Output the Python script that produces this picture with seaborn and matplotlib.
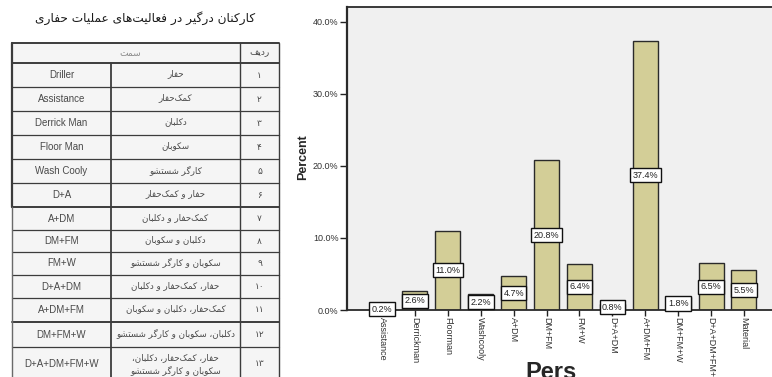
import matplotlib
matplotlib.use("Agg")
import matplotlib.pyplot as plt
import seaborn as sns
import pandas as pd

# ---- data -------------------------------------------------------------
categories = ["Assistance", "Derrickman", "Floorman", "Washcooly", "A+DM",
              "DM+FM", "FM+W", "D+A+DM", "A+DM+FM", "DM+FM+W",
              "D+A+DM+FM+W", "Material"]
percent = [0.2, 2.6, 11.0, 2.2, 4.7, 20.8, 6.4, 0.8, 37.4, 1.8, 6.5, 5.5]
y_ticks = [0, 10, 20, 30, 40]

table_title = "کارکنان درگیر در فعالیت‌های عملیات حفاری"
header_role = "سمت"
header_num = "ردیف"
roles_en = ["Driller", "Assistance", "Derrick Man", "Floor Man", "Wash Cooly",
            "D+A", "A+DM", "DM+FM", "FM+W", "D+A+DM", "A+DM+FM", "DM+FM+W",
            "D+A+DM+FM+W"]
roles_fa = ["حفار", "کمک‌حفار", "دکلبان", "سکوبان", "کارگر شستشو",
            "حفار و کمک‌حفار", "کمک‌حفار و دکلبان", "دکلبان و سکوبان",
            "سکوبان و کارگر شستشو", "حفار، کمک‌حفار و دکلبان",
            "کمک‌حفار، دکلبان و سکوبان", "دکلبان، سکوبان و کارگر شستشو",
            "حفار، کمک‌حفار، دکلبان،\nسکوبان و کارگر شستشو"]
row_numbers = ["۱", "۲", "۳", "۴", "۵", "۶", "۷", "۸", "۹", "۱۰", "۱۱", "۱۲", "۱۳"]

# ---- minimal Persian shaping (presentation forms + right-to-left order) --
FORMS = {  # isolated, final, initial, medial
    "ا": ("\uFE8D", "\uFE8E", None, None),
    "د": ("\uFEA9", "\uFEAA", None, None),
    "ر": ("\uFEAD", "\uFEAE", None, None),
    "و": ("\uFEED", "\uFEEE", None, None),
    "ب": ("\uFE8F", "\uFE90", "\uFE91", "\uFE92"),
    "ت": ("\uFE95", "\uFE96", "\uFE97", "\uFE98"),
    "ح": ("\uFEA1", "\uFEA2", "\uFEA3", "\uFEA4"),
    "س": ("\uFEB1", "\uFEB2", "\uFEB3", "\uFEB4"),
    "ش": ("\uFEB5", "\uFEB6", "\uFEB7", "\uFEB8"),
    "ع": ("\uFEC9", "\uFECA", "\uFECB", "\uFECC"),
    "ف": ("\uFED1", "\uFED2", "\uFED3", "\uFED4"),
    "ل": ("\uFEDD", "\uFEDE", "\uFEDF", "\uFEE0"),
    "م": ("\uFEE1", "\uFEE2", "\uFEE3", "\uFEE4"),
    "ن": ("\uFEE5", "\uFEE6", "\uFEE7", "\uFEE8"),
    "ه": ("\uFEE9", "\uFEEA", "\uFEEB", "\uFEEC"),
    "ی": ("\uFBFC", "\uFBFD", "\uFBFE", "\uFBFF"),
    "ک": ("\uFB8E", "\uFB8F", "\uFB90", "\uFB91"),
    "گ": ("\uFB92", "\uFB93", "\uFB94", "\uFB95"),
}


def _dual(c):
    return c in FORMS and FORMS[c][2] is not None


def shape_line(s):
    out = []
    i = 0
    while i < len(s):
        c = s[i]
        if c not in FORMS:
            if c != "\u200c":
                out.append(c)
            i += 1
            continue
        prev = s[i - 1] if i > 0 else None
        jp = prev is not None and _dual(prev)
        if c == "ل" and i + 1 < len(s) and s[i + 1] == "ا":
            out.append("\uFEFC" if jp else "\uFEFB")
            i += 2
            continue
        nxt = s[i + 1] if i + 1 < len(s) else None
        jn = _dual(c) and nxt is not None and nxt in FORMS
        iso, fin, ini, med = FORMS[c]
        out.append(med if (jp and jn) else fin if jp else ini if jn else iso)
        i += 1
    return "".join(reversed(out))


def fa(s):
    return "\n".join(shape_line(line) for line in s.split("\n"))


# ---- style ------------------------------------------------------------
sns.set_style("ticks")
plt.rcParams["font.family"] = ["Liberation Sans", "DejaVu Sans"]

W, H = 772, 377
fig = plt.figure(figsize=(W / 100, H / 100), dpi=100)

# ---- table panel (pixel coordinates) ---------------------------------
tax = fig.add_axes([0, 0, 1, 1], zorder=0)
tax.set_xlim(0, W)
tax.set_ylim(H, 0)
tax.axis("off")

t_left, t_right, c_num, c_mid = 12, 279, 240, 111
row_edges = [43, 63, 87, 111, 135, 159, 183, 207, 230, 252, 275, 298, 322, 347, 400]
line_col = "#3c3c3c"

tax.fill_between([t_left, t_right], row_edges[0], row_edges[-1],
                 color="#f5f5f5", zorder=0)
tax.text(145, 18, fa(table_title), family=["DejaVu Sans"], fontsize=8.7,
         ha="center", va="center", color="#1a1a1a")

for k, y in enumerate(row_edges[:-1]):
    lw = 1.4 if k in (0, 1, 7, 12) else 0.9
    tax.plot([t_left, t_right], [y, y], color=line_col, lw=lw, zorder=2)
tax.plot([t_left, t_left], [row_edges[0], row_edges[7]], color=line_col, lw=1.6, zorder=2)
tax.plot([t_left, t_left], [row_edges[7], row_edges[-1]], color="#6a6a6a", lw=1.0, zorder=2)
tax.plot([t_right, t_right], [row_edges[0], row_edges[-1]], color=line_col, lw=1.0, zorder=2)
tax.plot([c_num, c_num], [row_edges[0], row_edges[-1]], color=line_col, lw=1.0, zorder=2)
tax.plot([c_mid, c_mid], [row_edges[1], row_edges[-1]], color=line_col, lw=1.3, zorder=2)

txt_col = "#4a4a4a"
hy = (row_edges[0] + row_edges[1]) / 2
tax.text(130, hy, fa(header_role), family=["DejaVu Sans"], fontsize=6.5,
         ha="center", va="center", color="#8a8a8a")
tax.text((c_num + t_right) / 2, hy, fa(header_num), family=["DejaVu Sans"],
         fontsize=6.5, ha="center", va="center", color=txt_col)

for k, (en, per, num) in enumerate(zip(roles_en, roles_fa, row_numbers)):
    y0, y1 = row_edges[k + 1], row_edges[k + 2]
    yc = (y0 + y1) / 2 if k < len(roles_en) - 1 else y0 + 17
    tax.text((t_left + c_mid) / 2, yc, en, fontsize=7, ha="center",
             va="center", color=txt_col)
    tax.text((c_mid + c_num) / 2, yc - (1 if k < len(roles_en) - 1 else 0),
             fa(per), family=["DejaVu Sans"], fontsize=6.3, ha="center",
             va="center", color=txt_col, linespacing=1.3)
    tax.text((c_num + t_right) / 2, yc, num, family=["DejaVu Sans"],
             fontsize=6.5, ha="center", va="center", color=txt_col)

# ---- bar chart --------------------------------------------------------
ax_left, ax_right, ax_top, ax_zero = 347, 779, 7, 310
ax = fig.add_axes([ax_left / W, (H - ax_zero) / H,
                   (ax_right - ax_left) / W, (ax_zero - ax_top) / H], zorder=1)
ax.set_facecolor("#f0f0f0")

df = pd.DataFrame({"Pers": categories, "Percent": percent})
sns.barplot(data=df, x="Pers", y="Percent", color="#d3ce97", saturation=1,
            width=0.76, edgecolor="#2a2a2a", linewidth=1.0, ax=ax, zorder=2)

for bar in ax.patches:
    h = bar.get_height()
    ax.text(bar.get_x() + bar.get_width() / 2, h / 2, f"{h:.1f}%",
            fontsize=6.5, ha="center", va="center", color="#222222", zorder=5,
            bbox=dict(boxstyle="square,pad=0.28", fc="white", ec="#111111", lw=1.0))

ax.set_xlim(-1.064, len(categories) - 1 + 1.064)
ax.set_ylim(0, 42.08)
ax.set_yticks(y_ticks)
ax.set_yticklabels([f"{v:.1f}%" for v in y_ticks], fontsize=6.5, color="#333333")
ax.set_xticks(range(len(categories)))
ax.set_xticklabels(categories, rotation=270, fontsize=6.5, color="#333333",
                   ha="center", va="top")
ax.tick_params(axis="x", length=4, width=1, color="#222222", pad=1)
ax.tick_params(axis="y", length=5, width=1, color="#222222", pad=1)

for side in ("left", "bottom", "top"):
    ax.spines[side].set_visible(True)
    ax.spines[side].set_color("#2a2a2a")
ax.spines["left"].set_linewidth(1.6)
ax.spines["bottom"].set_linewidth(1.3)
ax.spines["top"].set_linewidth(1.3)
ax.spines["right"].set_visible(False)

ax.set_ylabel("Percent", fontsize=9, fontweight="bold", va="center")
ax.yaxis.set_label_coords(-0.102, 0.505)
ax.set_xlabel("Pers", fontsize=17, fontweight="bold", va="baseline")
ax.xaxis.set_label_coords(0.472, -0.228)

fig.savefig("out.png", dpi=100)
